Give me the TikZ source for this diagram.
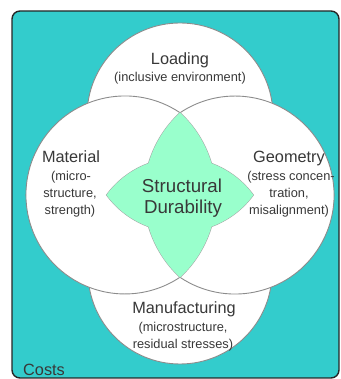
\documentclass[tikz,border=0pt]{standalone}
\usepackage{fontspec}
\setmainfont{Liberation Sans}
\definecolor{bgteal}{HTML}{33CCCC}
\definecolor{stargreen}{HTML}{99FFCC}
\definecolor{circline}{HTML}{8C8C8C}
\definecolor{frame}{HTML}{262626}
\definecolor{txt}{HTML}{383838}
\tikzset{
  circ/.style={fill=white, draw=circline, line width=0.9pt},
  circedge/.style={draw=circline, line width=0.9pt},
  ttl/.style={font=\fontsize{16.3}{19}\selectfont, text=txt, inner sep=0pt, anchor=base},
  subt/.style={font=\fontsize{12.8}{15}\selectfont, text=txt, inner sep=0pt, anchor=base},
  bigt/.style={font=\fontsize{18.7}{22}\selectfont, text=txt, inner sep=0pt, anchor=base},
}
\begin{document}
\begin{tikzpicture}[x=1pt,y=1pt]
\useasboundingbox (0,0) rectangle (340,379);
% background frame
\draw[rounded corners=8pt, fill=bgteal, draw=frame, line width=1.4pt] (12,1) rectangle (339,368);
% top and bottom circles
\path[circ] (180,263) circle[radius=93pt];
\path[circ] (180,107) circle[radius=92pt];
% left and right circles (filled, outer arcs only)
\fill[white] (125,184) circle[radius=99pt];
\fill[white] (235,184) circle[radius=99pt];
\coordinate (lt) at (180,266.3);
\coordinate (lb) at (180,101.7);
\path[circedge] (lt) arc[start angle=56.2, end angle=303.8, radius=99pt];
\path[circedge] (lb) arc[start angle=236.2, end angle=483.8, radius=99pt];
% star = union of a vertical and a horizontal lens
\coordinate (sl) at (106.5,184);
\coordinate (sr) at (253.5,184);
\filldraw[fill=stargreen, draw=circline!80, line width=1pt]
  (lt) arc[start angle=47.3, end angle=-47.3, radius=112pt]
       arc[start angle=227.3, end angle=132.7, radius=112pt] -- cycle;
\filldraw[fill=stargreen, draw=circline!80, line width=1pt]
  (sl) arc[start angle=143.8, end angle=36.2, radius=91pt]
       arc[start angle=323.8, end angle=216.2, radius=91pt] -- cycle;
\fill[stargreen]
  (lt) arc[start angle=47.3, end angle=-47.3, radius=112pt]
       arc[start angle=227.3, end angle=132.7, radius=112pt] -- cycle;
\fill[stargreen]
  (sl) arc[start angle=143.8, end angle=36.2, radius=91pt]
       arc[start angle=323.8, end angle=216.2, radius=91pt] -- cycle;
% texts
\node[ttl] (load) at (180,314) {Loading};
\node[subt] (loadsub) at (180,297.5) {(inclusive environment)};
\node[ttl] (mat) at (71,216) {Material};
\node[subt] (mat1) at (71,198.5) {(micro-};
\node[subt] (mat2) at (70,181.5) {structure,};
\node[subt] (mat3) at (70,164.5) {strength)};
\node[ttl] (geo) at (289,216) {Geometry};
\node[subt] (geo1) at (291,198.5) {(stress concen-};
\node[subt] (geo2) at (289,181.5) {tration,};
\node[subt] (geo3) at (289,164.5) {misalignment)};
\node[bigt] (sd1) at (182,186) {Structural};
\node[bigt] (sd2) at (183,165) {Durability};
\node[ttl] (man) at (184,65) {Manufacturing};
\node[subt] (man1) at (183,47.5) {(microstructure,};
\node[subt] (man2) at (183,30.5) {residual stresses)};
\node[ttl, anchor=base west] (costs) at (23,4) {Costs};
\end{tikzpicture}
\end{document}
